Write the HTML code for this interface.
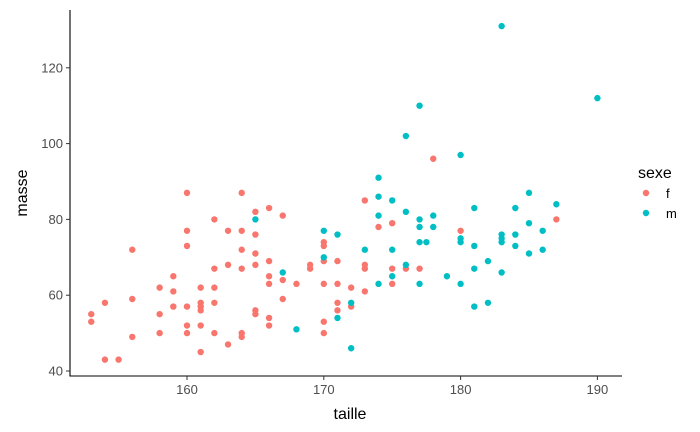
<!DOCTYPE html>
<html><head><meta charset="utf-8"><style>
body{margin:0;background:#fff;}
svg{display:block;font-family:"Liberation Sans",sans-serif;}
</style></head><body>
<svg id="chart" width="700" height="432">
<g id="axes"></g><g id="pts"></g>
<text x="350" y="419" text-anchor="middle" font-size="16" fill="#000">taille</text>
<text transform="translate(27,193) rotate(-90)" text-anchor="middle" font-size="16" fill="#000">masse</text>
<g>
<text x="638" y="178" font-size="16" fill="#000">sexe</text>
<circle cx="646" cy="193" r="3.2" fill="#F8766D"/>
<text x="666" y="198" font-size="13" fill="#000">f</text>
<circle cx="646" cy="213" r="3.2" fill="#00BFC4"/>
<text x="666" y="218" font-size="13" fill="#000">m</text>
</g>
</svg>
<script>
const xTicks=[160,170,180,190];
const yTicks=[40,60,80,100,120];
const fTaille=[153,153,154,154,155,156,156,156,158,158,158,159,159,159,160,160,160,160,160,160,161,161,161,161,161,161,162,162,162,162,162,163,163,163,164,164,164,164,164,164,165,165,165,165,165,165,166,166,166,166,166,166,167,167,167,168,169,169,170,170,170,170,170,170,171,171,171,171,172,172,173,173,173,173,174,175,175,175,176,177,178,180,187];
const fMasse=[55,53,58,43,43,72,59,49,62,55,50,65,61,57,87,77,73,57,52,50,62,58,57,56,52,45,80,67,62,58,50,77,68,47,87,77,72,67,50,49,82,76,71,68,56,55,83,69,65,63,54,52,81,64,59,63,68,67,74,73,69,63,53,50,58,56,63,69,57,62,85,68,67,61,78,79,67,63,67,67,96,77,80];
const mTaille=[165,167,168,170,170,171,171,172,172,173,174,174,174,174,175,175,175,176,176,176,177,177,177,177,177,177.5,178,178,179,180,180,180,180,181,181,181,181,182,182,183,183,183,183,183,184,184,184,185,185,185,186,186,187,190];
const mMasse=[80,66,51,77,70,76,54,58,46,72,91,86,81,63,85,72,65,102,82,68,110,80,78,74,63,74,81,78,65,97,75,74,63,83,73,67,57,69,58,131,76,75,74,66,83,76,73,87,79,71,77,72,84,112];
const NS="http://www.w3.org/2000/svg";
const X=v=>187+(v-160)*13.68;
const Y=v=>371-(v-40)*3.79;
const ax=document.getElementById('axes'),pg=document.getElementById('pts');
function mk(tag,attrs,parent){const e=document.createElementNS(NS,tag);for(const k in attrs)e.setAttribute(k,attrs[k]);parent.appendChild(e);return e;}
let l=mk('line',{x1:70,y1:10,x2:70,y2:376.5,stroke:'#000','stroke-width':1.1},ax);


l=mk('line',{x1:69.5,y1:376,x2:622,y2:376,stroke:'#000','stroke-width':1.1},ax);


xTicks.forEach(t=>{
 const tk=mk('line',{x1:X(t),y1:376,x2:X(t),y2:380,stroke:'#333'},ax);
 
 
 const tx=mk('text',{x:X(t),y:394,'text-anchor':'middle','font-size':13,fill:'#4d4d4d'},ax);tx.textContent=t;
 
 
});
yTicks.forEach(t=>{
 const tk=mk('line',{x1:66,y1:Y(t),x2:70,y2:Y(t),stroke:'#333'},ax);
 
 
 const tx=mk('text',{x:63,y:Y(t)+4.5,'text-anchor':'end','font-size':13,fill:'#4d4d4d'},ax);tx.textContent=t;
 
 
});
fTaille.forEach((t,i)=>{
 const c=mk('circle',{cx:X(t),cy:Y(fMasse[i]),r:3.2,fill:'#F8766D'},pg);
 
 
});
mTaille.forEach((t,i)=>{
 const c=mk('circle',{cx:X(t),cy:Y(mMasse[i]),r:3.2,fill:'#00BFC4'},pg);
 
 
});
</script>
</body></html>
